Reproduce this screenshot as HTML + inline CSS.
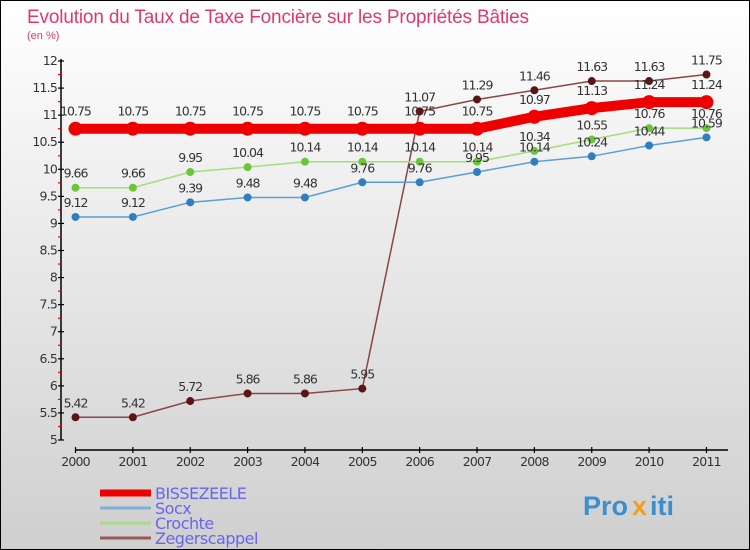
<!DOCTYPE html>
<html><head><meta charset="utf-8"><style>
body{margin:0}
#c{width:750px;height:550px;position:relative;overflow:hidden;font-family:"DejaVu Sans","Liberation Sans",sans-serif}
</style></head><body>
<div id="c">
<svg width="750" height="550" xmlns="http://www.w3.org/2000/svg" id="svg">
<defs><linearGradient id="bg" x1="0" y1="0" x2="0" y2="1"><stop offset="0" stop-color="#ffffff"/><stop offset="1" stop-color="#cfcfcf"/></linearGradient></defs>
<rect x="0.5" y="0.5" width="749" height="549" fill="url(#bg)" stroke="#000"/>
<text x="27" y="23" font-size="19" fill="#e0386e" font-family="Liberation Sans" textLength="502">Evolution du Taux de Taxe Foncière sur les Propriétés Bâties</text>
<text x="27" y="39" font-size="11" fill="#e0386e" font-family="Liberation Sans">(en %)</text>
<g id="axes"></g>
<g id="series"></g>
<g id="legend"></g>
<g font-size="27" font-weight="bold" font-family="Liberation Sans">
<text x="583" y="515" fill="#3a8fd0">Pro</text><text x="632" y="515" fill="#f0a020">x</text><text x="650" y="515" fill="#3a8fd0">iti</text>
</g>
</svg>
</div>
<script>
const years=[2000,2001,2002,2003,2004,2005,2006,2007,2008,2009,2010,2011];
const bissezeele=[10.75,10.75,10.75,10.75,10.75,10.75,10.75,10.75,10.97,11.13,11.24,11.24];
const socx=[9.12,9.12,9.39,9.48,9.48,9.76,9.76,9.95,10.14,10.24,10.44,10.59];
const crochte=[9.66,9.66,9.95,10.04,10.14,10.14,10.14,10.14,10.34,10.55,10.76,10.76];
const zegerscappel=[5.42,5.42,5.72,5.86,5.86,5.95,11.07,11.29,11.46,11.63,11.63,11.75];
const yTicks=[5,5.5,6,6.5,7,7.5,8,8.5,9,9.5,10,10.5,11,11.5,12];
const seriesNames=["BISSEZEELE","Socx","Crochte","Zegerscappel"];

const NS="http://www.w3.org/2000/svg";
function X(i){return 75.5+i*57.36;}
function Y(v){return 440-(v-5)*54.14;}
function mk(p,tag,a){const e=document.createElementNS(NS,tag);for(const k in a)e.setAttribute(k,a[k]);p.appendChild(e);return e;}
const ax=document.getElementById('axes');
let l=mk(ax,'line',{x1:61,y1:Y(12)-2,x2:61,y2:Y(5),stroke:'#000','stroke-width':1.5});


l=mk(ax,'line',{x1:75,y1:450,x2:728,y2:450,stroke:'#000','stroke-width':1.5});


for(let v=5;v<=12.001;v+=0.25){
  const major=Math.abs(v*2-Math.round(v*2))<1e-6;
  if(!major){const t=mk(ax,'line',{x1:58,y1:Y(v),x2:61,y2:Y(v),stroke:'#e00','stroke-width':1.2});
    
    }
}
yTicks.forEach(v=>{
  const t=mk(ax,'line',{x1:58,y1:Y(v),x2:64,y2:Y(v),stroke:'#000','stroke-width':1.2});
  
  
  const tx=mk(ax,'text',{x:57,y:Y(v)+4,'text-anchor':'end','font-size':12.5,fill:'#333','letter-spacing':'-0.8'});
  tx.textContent=String(v);
  
  
});
years.forEach((yr,i)=>{
  const t=mk(ax,'line',{x1:X(i),y1:447,x2:X(i),y2:453,stroke:'#000','stroke-width':1.2});
  
  
  const tx=mk(ax,'text',{x:X(i),y:466,'text-anchor':'middle','font-size':12.5,fill:'#333','letter-spacing':'-0.8'});
  tx.textContent=String(yr);
  
  
});
const sg=document.getElementById('series');
const defs=[
 {d:zegerscappel,c:'#8a4545',p:'#5a1515',w:1.5,r:4,n:'zegerscappel'},
 {d:socx,c:'#5a9fd4',p:'#2f7ec0',w:1.5,r:4,n:'socx'},
 {d:crochte,c:'#9fe07a',p:'#6cc63a',w:1.5,r:4,n:'crochte'},
 {d:bissezeele,c:'#ee0000',p:'#ee0000',w:10,r:7,n:'bissezeele'}
];
defs.forEach(s=>{
  const pl=mk(sg,'polyline',{points:s.d.map((v,i)=>X(i)+','+Y(v)).join(' '),fill:'none',stroke:s.c,'stroke-width':s.w});
  
  
  s.d.forEach((v,i)=>{
    const c=mk(sg,'circle',{cx:X(i),cy:Y(v),r:s.r,fill:s.p});
    
    
  });
});
defs.forEach(s=>{
  s.d.forEach((v,i)=>{
    const t=mk(sg,'text',{x:X(i),y:Y(v)-(s.r+6),'text-anchor':'middle','font-size':12.5,fill:'#333','letter-spacing':'-1'});
    t.textContent=v.toFixed(2).replace(/0$/,'').replace(/\.$/,'');
    
    
  });
});
const lg=document.getElementById('legend');
const lcol=['#ee0000','#7fb0d8','#a8dc88','#9a5a5a'],lw=[7,3,3,3];
seriesNames.forEach((n,i)=>{
  const y=493+i*15;
  const ln=mk(lg,'line',{x1:100,y1:y,x2:151,y2:y,stroke:lcol[i],'stroke-width':lw[i]});
  
  
  const t=mk(lg,'text',{x:155,y:y+6,'font-size':16,fill:'#6666ee','letter-spacing':'-0.5'});
  t.textContent=n;
  
  
});
</script>
</body></html>
